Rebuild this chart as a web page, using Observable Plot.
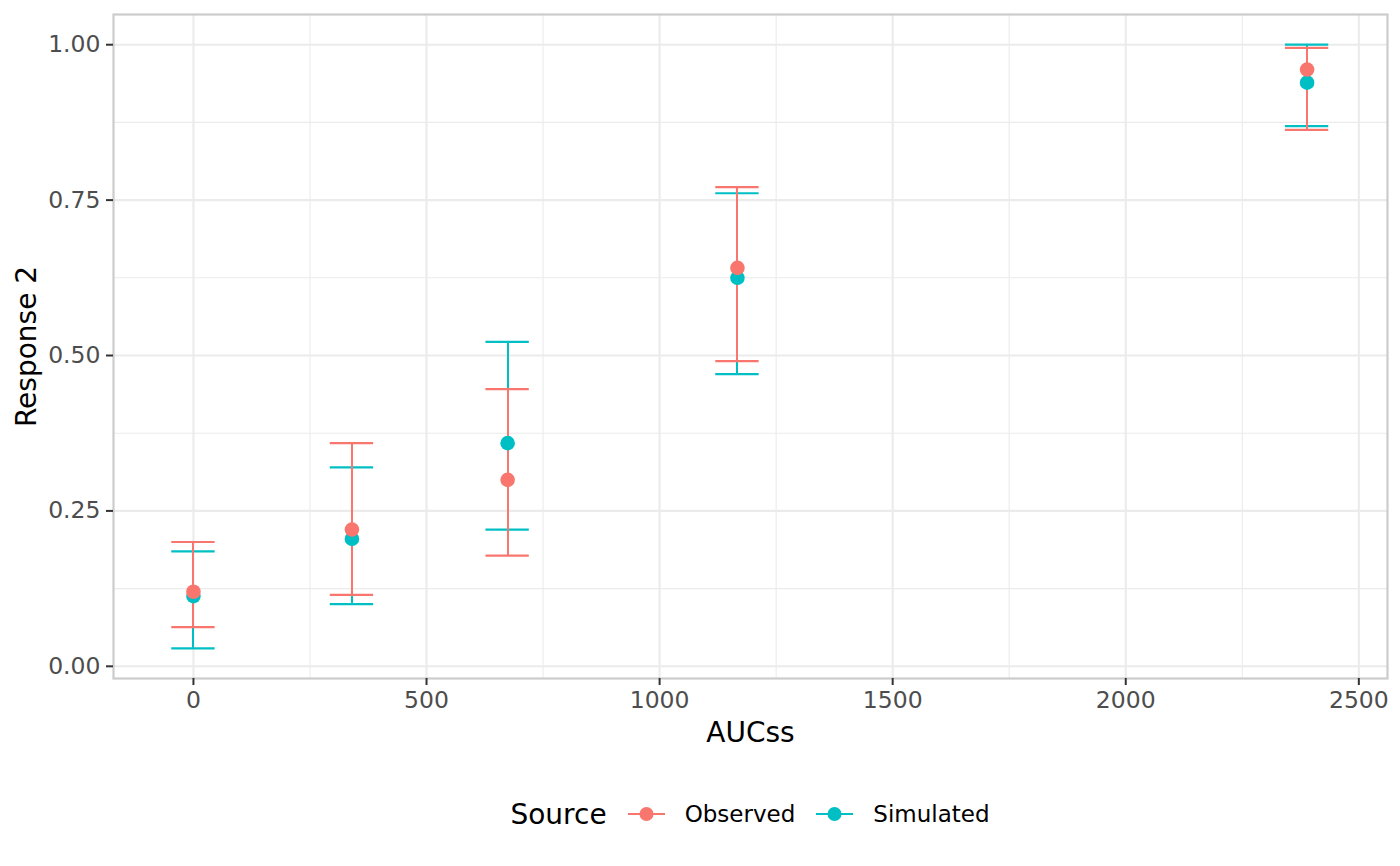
<!DOCTYPE html>
<html>
<head>
<meta charset="utf-8">
<script src="https://cdn.jsdelivr.net/npm/d3@7"></script>
<script src="https://cdn.jsdelivr.net/npm/@observablehq/plot@0.6"></script>
<style>
  html, body { margin: 0; padding: 0; background: #ffffff; }
  body { width: 1400px; height: 866px; position: relative; overflow: hidden; font-family: "DejaVu Sans", sans-serif; }
  #chart { position: absolute; left: 0; top: 0; }
  #legend { position: absolute; left: 113px; width: 1274px; top: 794px; height: 40px;
            display: flex; justify-content: center; align-items: center; }
  #legend .title { font-size: 28px; color: #000; margin-right: 21px; }
  #legend .lab { font-size: 23px; color: #000; margin-left: 20px; margin-right: 21px; }
  #legend svg { display: block; }
</style>
</head>
<body>
<div id="chart"></div>
<div id="legend"></div>
<script>
// ---- data ----
const sources = ["Observed", "Simulated"];
const sourceColors = ["#F8766D", "#00BFC4"];

const aucss = [0, 340, 674, 1167, 2389];

const observedMean  = [0.120, 0.220, 0.300, 0.641, 0.960];
const observedLower = [0.063, 0.115, 0.178, 0.491, 0.863];
const observedUpper = [0.200, 0.359, 0.446, 0.771, 0.995];

const simulatedMean  = [0.113, 0.205, 0.359, 0.625, 0.939];
const simulatedLower = [0.029, 0.100, 0.220, 0.470, 0.869];
const simulatedUpper = [0.185, 0.320, 0.522, 0.761, 1.000];

const xMajorTicks = [0, 500, 1000, 1500, 2000, 2500];
const xMinorTicks = [250, 750, 1250, 1750, 2250];
const yMajorTicks = [0, 0.25, 0.5, 0.75, 1.0];
const yMinorTicks = [0.125, 0.375, 0.625, 0.875];

const xTitle = "AUCss";
const yTitle = "Response 2";
const legendTitle = "Source";

// ---- build table ----
function rowsFor(source, mean, lo, hi) {
  return aucss.map((x, i) => ({source, x, mean: mean[i], lo: lo[i], hi: hi[i]}));
}
const simRows = rowsFor("Simulated", simulatedMean, simulatedLower, simulatedUpper);
const obsRows = rowsFor("Observed", observedMean, observedLower, observedUpper);

const capHalf = 46.5; // half error-bar width, in AUCss units

function errorbars(rows) {
  const common = {stroke: "source", strokeWidth: 2.2};
  return [
    Plot.ruleX(rows, {x: "x", y1: "lo", y2: "hi", stroke: "source", strokeWidth: 2, shapeRendering: "crispEdges"}),
    Plot.ruleY(rows, {y: "lo", x1: d => d.x - capHalf, x2: d => d.x + capHalf, ...common}),
    Plot.ruleY(rows, {y: "hi", x1: d => d.x - capHalf, x2: d => d.x + capHalf, ...common})
  ];
}

const chart = Plot.plot({
  width: 1400,
  height: 760,
  marginLeft: 113,
  marginRight: 13,
  marginTop: 14,
  marginBottom: 82,
  style: {fontFamily: "DejaVu Sans", background: "#ffffff"},
  x: {domain: [-171.5, 2561.5]},
  y: {domain: [-0.0196, 1.0486]},
  color: {domain: sources, range: sourceColors},
  marks: [
    Plot.ruleX(xMinorTicks, {x: d => d, stroke: "#ebebeb", strokeWidth: 1.1}),
    Plot.ruleY(yMinorTicks, {y: d => d, stroke: "#ebebeb", strokeWidth: 1.1}),
    Plot.ruleX(xMajorTicks, {x: d => d, stroke: "#ebebeb", strokeWidth: 2.1}),
    Plot.ruleY(yMajorTicks, {y: d => d, stroke: "#ebebeb", strokeWidth: 2.1}),
    ...errorbars(simRows),
    ...errorbars(obsRows),
    Plot.dot(simRows, {x: "x", y: "mean", fill: "source", r: 7.3}),
    Plot.dot(obsRows, {x: "x", y: "mean", fill: "source", r: 7.3}),
    Plot.frame({stroke: "#cccccc", strokeWidth: 2.2}),
    Plot.axisX({ticks: xMajorTicks, tickFormat: d3.format("d"), tickSize: 7, tickPadding: 6,
                stroke: "#333333", strokeWidth: 2, fill: "#4d4d4d", fontSize: 23.5, label: null, strokeOpacity: 1}),
    Plot.axisY({ticks: yMajorTicks, tickFormat: d3.format(".2f"), tickSize: 7, tickPadding: 6,
                stroke: "#333333", strokeWidth: 2, fill: "#4d4d4d", fontSize: 23.5, label: null, strokeOpacity: 1}),
    Plot.text([xTitle], {text: d => d, frameAnchor: "bottom", dy: 55, fontSize: 28, fill: "#000000", lineAnchor: "middle", textAnchor: "middle"}),
    Plot.text([yTitle], {text: d => d, frameAnchor: "left", dx: -86, rotate: -90, fontSize: 28, fill: "#000000", lineAnchor: "middle", textAnchor: "middle"})
  ]
});
document.getElementById("chart").appendChild(chart);

// ---- legend ----
const legend = document.getElementById("legend");
const t = document.createElement("span");
t.className = "title";
t.textContent = legendTitle;
legend.appendChild(t);
sources.forEach((s, i) => {
  const ns = "http://www.w3.org/2000/svg";
  const svg = document.createElementNS(ns, "svg");
  svg.setAttribute("width", 37);
  svg.setAttribute("height", 20);
  const line = document.createElementNS(ns, "line");
  line.setAttribute("x1", 0); line.setAttribute("x2", 37);
  line.setAttribute("y1", 10); line.setAttribute("y2", 10);
  line.setAttribute("stroke", sourceColors[i]); line.setAttribute("stroke-width", 2.2);
  const c = document.createElementNS(ns, "circle");
  c.setAttribute("cx", 18.5); c.setAttribute("cy", 10); c.setAttribute("r", 7);
  c.setAttribute("fill", sourceColors[i]);
  svg.appendChild(line); svg.appendChild(c);
  legend.appendChild(svg);
  const lab = document.createElement("span");
  lab.className = "lab";
  lab.textContent = s;
  if (i === sources.length - 1) lab.style.marginRight = "0px";
  legend.appendChild(lab);
});
</script>
</body>
</html>
